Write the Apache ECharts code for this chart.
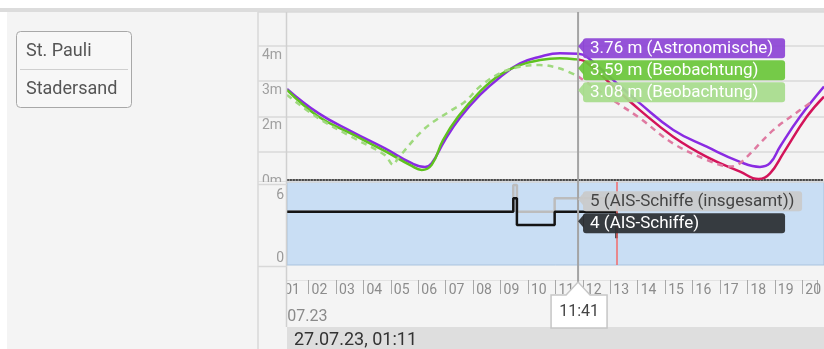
<!DOCTYPE html>
<html><head><meta charset="utf-8">
<script src="https://cdn.jsdelivr.net/npm/echarts@6/dist/echarts.min.js"></script>
<style>
html,body{margin:0;padding:0;background:#fff;width:824px;height:349px;overflow:hidden}
#bg{position:absolute;left:7px;top:12px;width:817px;height:337px;background:#f4f4f4}
#band{position:absolute;left:0;top:8px;width:824px;height:4px;background:#dcdcdc}
#c{position:absolute;left:0;top:0;width:824px;height:349px}
</style></head><body>
<div id="bg"></div><div id="band"></div><div id="c"></div>
<script>
// ---- data (hours of 27.07.23, values in m / ship counts) ----
const XMIN = 1.198, XMAX = 20.543;
const CROSS = 11 + 41 / 60;      // cursor 11:41
const NOW = 13.07;               // current time marker
const stations = ['St. Pauli', 'Stadersand'];
const astroTide = [[1.198,2.71],[2.326,1.99],[3.529,1.44],[4.728,0.94],[5.690,0.50],[6.169,0.39],[6.411,0.50],[6.890,1.19],[7.430,1.85],[8.151,2.53],[8.871,3.06],[9.592,3.47],[10.312,3.67],[11.033,3.77],[11.692,3.76],[11.994,3.67],[12.942,2.98],[13.914,2.28],[15.114,1.49],[16.317,0.99],[17.517,0.54],[18.237,0.39],[18.597,0.50],[18.957,0.99],[19.678,1.88],[20.543,2.78]];
const observed = [[1.198,2.68],[2.31,1.90],[3.53,1.37],[4.73,0.86],[5.69,0.42],[6.05,0.30],[6.41,0.45],[6.82,1.19],[7.36,1.88],[8.15,2.63],[8.87,3.13],[9.59,3.42],[10.31,3.57],[11.03,3.62],[11.63,3.59],[11.75,3.56]];
const forecast = [[11.69,3.59],[11.99,3.50],[12.94,2.80],[13.91,2.08],[15.11,1.29],[16.32,0.69],[17.52,0.25],[18.18,0.03],[18.60,0.20],[19.08,0.80],[19.92,1.88],[20.543,2.48]];
const observed2 = [[1.198,2.53],[2.31,1.85],[3.53,1.28],[4.73,0.74],[5.02,0.45],[5.20,0.65],[6.17,1.54],[7.13,2.08],[7.61,2.33],[8.15,2.78],[8.87,3.18],[9.59,3.37],[10.31,3.42],[11.03,3.32],[11.69,3.08]];
const forecast2 = [[11.69,3.08],[12.47,2.63],[13.30,2.18],[13.91,1.84],[15.10,1.09],[16.32,0.60],[17.16,0.40],[17.52,0.50],[18.72,1.49],[19.68,2.08],[20.04,2.29]];
const aisTotal = [[1.198,4],[9.35,6],[9.48,4],[10.84,5],[13.07,5]];
const aisShips = [[1.198,4],[9.35,5],[9.48,3],[10.84,4],[13.07,2]];
const tideTags = ['3.76 m (Astronomische)', '3.59 m (Beobachtung)', '3.08 m (Beobachtung)'];
const tideTagValue = 3.76;
const aisTags = ['5 (AIS-Schiffe (insgesamt))', '4 (AIS-Schiffe)'];
const aisTagValue = 5;
const cursorLabel = '11:41';
const dateLabel = '27.07.23';
const footerLabel = '27.07.23, 01:11';
const tideTickLabels = {4: '4m', 3: '3m', 2: '2m'};

const FONT = 'Roboto, sans-serif';
const pad2 = v => (v < 10 ? '0' : '') + v;
const SM = 0.45;

const option = {
  animation: false,
  textStyle: {fontFamily: FONT},
  grid: [
    {left: 287, top: 12, width: 537, height: 168, show: false},
    {left: 287, top: 182, width: 537, height: 83, show: true, backgroundColor: '#c9def4', borderColor: '#a9c3de', borderWidth: 1},
    {left: 258, top: 12, width: 566, height: 170, show: false},
    {left: 253.74, top: 266, width: 570.26, height: 14, show: false}
  ],
  xAxis: [
    {gridIndex: 0, type: 'value', min: XMIN, max: XMAX, axisLine: {show: true, lineStyle: {color: '#111', type: 'dotted', width: 1.5}}, axisTick: {show: false}, axisLabel: {show: false}, splitLine: {show: false}},
    {gridIndex: 1, type: 'value', min: XMIN, max: XMAX, show: false},
    {gridIndex: 2, type: 'value', min: 0, max: 1, show: false},
    {gridIndex: 3, type: 'value', min: 0, max: XMAX, interval: 1,
      axisLine: {show: true, lineStyle: {color: '#e2e2e2', width: 1}},
      axisTick: {show: true, length: 14, lineStyle: {color: '#a8a8a8', width: 1}},
      axisLabel: {margin: 3, align: 'left', padding: [0, 0, 0, 3], color: '#8c8c8c', fontSize: 14, fontFamily: FONT,
        formatter: v => (Number.isInteger(v) && v >= 1) ? pad2(v) : ''},
      splitLine: {show: false}}
  ],
  yAxis: [
    {gridIndex: 0, type: 'value', min: 0, max: 5, show: false},
    {gridIndex: 1, type: 'value', min: 0, max: 6.225, interval: 6, z: 60,
      axisLine: {show: false}, axisTick: {show: false}, splitLine: {show: false},
      axisLabel: {margin: 3, fontSize: 14, color: '#9a9a9a', fontFamily: FONT,
        formatter: v => v === 6 ? '{t|6}' : (v === 0 ? '{b|0}' : ''),
        rich: {t: {padding: [20, 0, 0, 0], fontSize: 14, color: '#9a9a9a', fontFamily: FONT},
               b: {padding: [0, 0, 14, 0], fontSize: 14, color: '#9a9a9a', fontFamily: FONT}}}},
    {gridIndex: 2, type: 'value', min: 0.14, max: 4.965,
      axisLine: {show: false}, axisTick: {show: false},
      splitLine: {show: true, lineStyle: {color: '#dadada', width: 1.5}},
      axisLabel: {inside: true, margin: 4, fontSize: 14, color: '#a0a0a0', fontFamily: FONT,
        formatter: v => tideTickLabels[v] ? '{t|' + tideTickLabels[v] + '}' : (v < 0.5 ? '{z|0m}' : ''),
        rich: {t: {padding: [18, 0, 0, 0], fontSize: 14, color: '#a0a0a0', fontFamily: FONT},
               z: {padding: [0, 0, 2, 0], fontSize: 14, color: '#a0a0a0', fontFamily: FONT}}}},
    {gridIndex: 3, type: 'value', min: 0, max: 1, show: false}
  ],
  series: [
    {type: 'line', name: 'Astronomische', xAxisIndex: 0, yAxisIndex: 0, data: astroTide, smooth: SM, showSymbol: false, lineStyle: {color: '#8a2be2', width: 2.5}, z: 3},
    {type: 'line', name: 'Beobachtung', xAxisIndex: 0, yAxisIndex: 0, data: observed, smooth: SM, showSymbol: false, lineStyle: {color: '#5fc21f', width: 2.5}, z: 4},
    {type: 'line', name: 'Beobachtung 2', xAxisIndex: 0, yAxisIndex: 0, data: observed2, smooth: 0.35, showSymbol: false, lineStyle: {color: '#9fd97e', width: 2.5, type: [6, 5]}, z: 5},
    {type: 'line', name: 'Vorhersage', xAxisIndex: 0, yAxisIndex: 0, data: forecast, smooth: SM, showSymbol: false, lineStyle: {color: '#d3145a', width: 2.5}, z: 4},
    {type: 'line', name: 'Vorhersage 2', xAxisIndex: 0, yAxisIndex: 0, data: forecast2, smooth: 0.35, showSymbol: false, lineStyle: {color: '#df7aa1', width: 2.5, type: [6, 5]}, z: 5},
    {type: 'line', name: 'AIS-Schiffe (insgesamt)', xAxisIndex: 1, yAxisIndex: 1, step: 'end', data: aisTotal, showSymbol: false, lineStyle: {color: '#bcbcbc', width: 2.5}, z: 3},
    {type: 'line', name: 'AIS-Schiffe', xAxisIndex: 1, yAxisIndex: 1, step: 'end', data: aisShips, showSymbol: false, lineStyle: {color: '#141414', width: 2.5}, z: 4,
      markLine: {symbol: 'none', silent: true, label: {show: false}, lineStyle: {color: '#f26b6b', width: 1.5, type: 'solid'}, data: [{xAxis: NOW}]}}
  ]
};

const chart = echarts.init(document.getElementById('c'), null, {renderer: 'canvas'});
chart.setOption(option);

const ctx = document.createElement('canvas').getContext('2d');
function textW(t, size) { ctx.font = size + 'px Roboto'; return ctx.measureText(t).width; }
const px = (g, x, y) => chart.convertToPixel({gridIndex: g}, [x, y]);

const cx = px(0, CROSS, 0)[0];
const els = [];
els.push({type: 'rect', z: 10, shape: {x: 16.5, y: 31.5, width: 115, height: 76, r: 4}, style: {fill: '#f7f7f7', stroke: '#a8a8a8', lineWidth: 1}});
els.push({type: 'line', z: 11, shape: {x1: 20, y1: 69.5, x2: 128, y2: 69.5}, style: {stroke: '#cfcfcf', lineWidth: 1}});
stations.forEach((s, i) => els.push({type: 'text', z: 11, style: {text: s, x: 26, y: 51 + i * 38, verticalAlign: 'middle', fill: '#555', fontSize: 18, fontFamily: FONT}}));
els.push({type: 'text', z: 40, style: {text: dateLabel, x: 265, y: 317, verticalAlign: 'middle', fill: '#8a8a8a', fontSize: 16, fontFamily: FONT}});
els.push({type: 'rect', z: 50, shape: {x: 240, y: 182, width: 46.5, height: 145}, style: {fill: '#f4f4f4'}});
els.push({type: 'line', z: 55, shape: {x1: 258, y1: 12, x2: 258, y2: 349}, style: {stroke: '#d8d8d8', lineWidth: 1.5}});
els.push({type: 'line', z: 55, shape: {x1: 286.5, y1: 12, x2: 286.5, y2: 327}, style: {stroke: '#d0d0d0', lineWidth: 1.5}});
els.push({type: 'line', z: 55, shape: {x1: 258, y1: 184.5, x2: 287, y2: 184.5}, style: {stroke: '#d8d8d8', lineWidth: 1.5}});
els.push({type: 'line', z: 55, shape: {x1: 258, y1: 266.5, x2: 287, y2: 266.5}, style: {stroke: '#d8d8d8', lineWidth: 1.5}});
els.push({type: 'rect', z: 55, shape: {x: 287, y: 327, width: 537, height: 22}, style: {fill: '#dedede'}});
els.push({type: 'text', z: 56, style: {text: footerLabel, x: 294, y: 340, verticalAlign: 'middle', fill: '#333', fontSize: 18, fontFamily: FONT}});
els.push({type: 'line', z: 70, shape: {x1: cx, y1: 12, x2: cx, y2: 283}, style: {stroke: '#a4a4a4', lineWidth: 2}});
function tag(top, text, fill, color, minW) {
  const w = Math.max(minW, Math.ceil(textW(text, 17)) + 14);
  els.push({type: 'polygon', z: 79, shape: {points: [[cx + 6, top + 1], [cx, top + 8], [cx + 6, top + 15]]}, style: {fill: fill, opacity: 0.93}});
  els.push({type: 'rect', z: 80, shape: {x: cx + 5, y: top, width: w, height: 20, r: 3}, style: {fill: fill, opacity: 0.93}});
  els.push({type: 'text', z: 81, style: {text: text, x: cx + 12, y: top + 10.5, verticalAlign: 'middle', fill: color, fontSize: 17, fontFamily: FONT}});
}
const tTop = px(0, CROSS, tideTagValue)[1] - 15.5;
const tideColors = [['#8d45d5', '#fff'], ['#6bc63a', '#fff'], ['#a7db8c', '#fff']];
tideTags.forEach((t, i) => tag(tTop + i * 22, t, tideColors[i][0], tideColors[i][1], 202));
const aTop = px(1, CROSS, aisTagValue)[1] - 7;
const aisColors = [['#cacaca', '#444'], ['#2b2e31', '#fff']];
aisTags.forEach((t, i) => tag(aTop + i * 22, t, aisColors[i][0], aisColors[i][1], 202));
els.push({type: 'polygon', z: 80, shape: {points: [[cx - 27, 295], [cx - 12, 295], [cx, 282], [cx + 12, 295], [cx + 29, 295], [cx + 29, 328], [cx - 27, 328]]}, style: {fill: '#fff', stroke: '#c6c6c6', lineWidth: 1.5}});
els.push({type: 'text', z: 81, style: {text: cursorLabel, x: cx + 1, y: 311.5, align: 'center', verticalAlign: 'middle', fill: '#444', fontSize: 16, fontFamily: FONT}});
chart.setOption({graphic: els});
</script>
</body></html>
